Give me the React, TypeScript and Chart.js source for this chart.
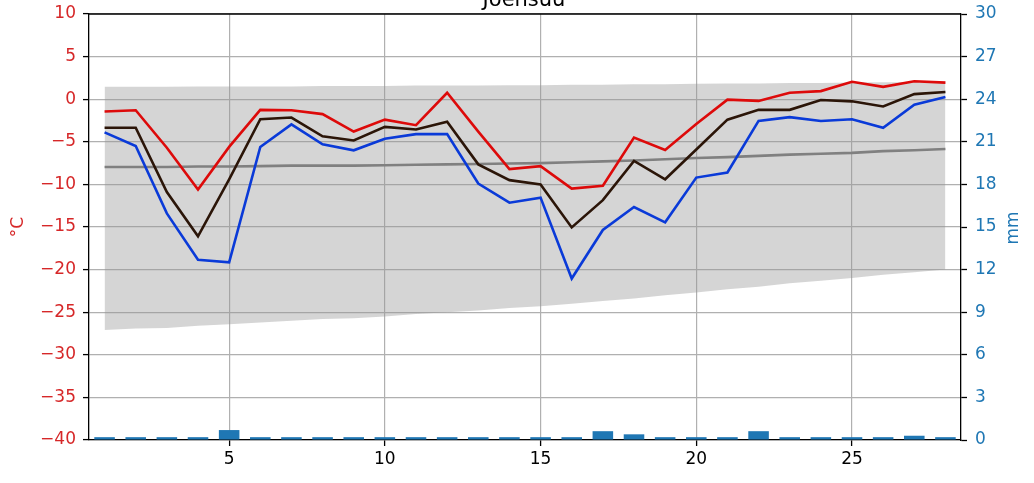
import React, { useEffect, useRef } from 'react';
import { Chart, registerables } from 'chart.js';

Chart.register(...registerables);

const titleText = 'Joensuu';
const leftAxisLabel = '°C';
const rightAxisLabel = 'mm';

const days = [1, 2, 3, 4, 5, 6, 7, 8, 9, 10, 11, 12, 13, 14, 15, 16, 17, 18, 19, 20, 21, 22, 23, 24, 25, 26, 27, 28];
const xTicks = [5, 10, 15, 20, 25];

const tMax = [-1.45, -1.3, -5.7, -10.6, -5.6, -1.25, -1.3, -1.75, -3.8, -2.4, -3.05, 0.75, -3.8, -8.2, -7.85, -10.5, -10.15, -4.5, -5.95, -2.9, -0.05, -0.2, 0.75, 0.95, 2.05, 1.45, 2.1, 1.95];
const tMean = [-3.35, -3.35, -10.9, -16.1, -9.4, -2.35, -2.15, -4.35, -4.85, -3.25, -3.55, -2.65, -7.65, -9.5, -10.0, -15.05, -11.85, -7.25, -9.4, -5.9, -2.4, -1.25, -1.25, -0.1, -0.25, -0.85, 0.6, 0.85];
const tMin = [-3.9, -5.5, -13.4, -18.85, -19.15, -5.6, -2.95, -5.3, -6.0, -4.65, -4.1, -4.1, -9.9, -12.15, -11.55, -21.05, -15.35, -12.65, -14.45, -9.2, -8.6, -2.55, -2.1, -2.55, -2.35, -3.35, -0.65, 0.25];

const climHigh = [1.45, 1.45, 1.45, 1.5, 1.5, 1.5, 1.5, 1.55, 1.55, 1.55, 1.6, 1.6, 1.6, 1.65, 1.65, 1.7, 1.7, 1.75, 1.75, 1.8, 1.85, 1.85, 1.9, 1.9, 1.95, 2.0, 2.0, 2.05];
const climLow = [-27.1, -26.9, -26.85, -26.6, -26.4, -26.2, -26.0, -25.8, -25.7, -25.5, -25.2, -25.0, -24.8, -24.5, -24.3, -24.0, -23.7, -23.4, -23.0, -22.7, -22.3, -22.0, -21.6, -21.3, -21.0, -20.6, -20.3, -20.0];
const climMean = [-7.95, -7.95, -7.95, -7.9, -7.9, -7.85, -7.8, -7.8, -7.8, -7.75, -7.7, -7.65, -7.6, -7.55, -7.5, -7.4, -7.3, -7.2, -7.05, -6.9, -6.8, -6.65, -6.5, -6.4, -6.3, -6.1, -6.0, -5.85];

const precip = [0.2, 0.2, 0.2, 0.2, 0.7, 0.2, 0.2, 0.2, 0.2, 0.2, 0.2, 0.2, 0.2, 0.2, 0.2, 0.2, 0.62, 0.4, 0.2, 0.2, 0.2, 0.62, 0.2, 0.2, 0.2, 0.2, 0.3, 0.2];

const FONT = '"DejaVu Sans", sans-serif';
const RED_TXT = '#d62728';
const BLUE_TXT = '#1f77b4';

const pts = (arr: number[]) => days.map((d, i) => ({ x: d, y: arr[i] }));

const framePlugin = {
  id: 'frame',
  afterDraw(chart: any) {
    const { ctx, chartArea } = chart;
    ctx.save();
    ctx.strokeStyle = '#000';
    ctx.lineWidth = 1.3;
    ctx.beginPath();
    ctx.moveTo(chartArea.left, chartArea.top);
    ctx.lineTo(chartArea.right, chartArea.top);
    ctx.stroke();

    ctx.fillStyle = '#000';
    ctx.font = `21px ${FONT}`;
    ctx.textAlign = 'center';
    ctx.textBaseline = 'alphabetic';
    ctx.fillText(titleText, 524, 6);

    ctx.font = `17px ${FONT}`;
    ctx.textBaseline = 'middle';
    ctx.save();
    ctx.translate(19, 227);
    ctx.rotate(-Math.PI / 2);
    ctx.fillStyle = RED_TXT;
    ctx.fillText(leftAxisLabel, 0, 0);
    ctx.restore();

    ctx.save();
    ctx.translate(1014, 228);
    ctx.rotate(-Math.PI / 2);
    ctx.fillStyle = BLUE_TXT;
    ctx.fillText(rightAxisLabel, 0, 0);
    ctx.restore();
    ctx.restore();
  },
};

export default function App() {
  const ref = useRef<HTMLCanvasElement>(null);

  useEffect(() => {
    const lineBase = { pointRadius: 0, borderWidth: 2.6, tension: 0, fill: false, yAxisID: 'y' };
    const chart = new Chart(ref.current as HTMLCanvasElement, {
      type: 'line',
      data: {
        datasets: [
          { ...lineBase, label: 'low', data: pts(climLow), borderWidth: 0, order: 10 } as any,
          { ...lineBase, label: 'high', data: pts(climHigh), borderWidth: 0, fill: '-1', backgroundColor: 'rgba(150,150,150,0.4)', order: 9 } as any,
          { ...lineBase, label: 'climMean', data: pts(climMean), borderColor: '#808080', order: 8 } as any,
          { ...lineBase, label: 'max', data: pts(tMax), borderColor: '#dd0a0a', order: 3 } as any,
          { ...lineBase, label: 'min', data: pts(tMin), borderColor: '#0a3ad8', order: 2 } as any,
          { ...lineBase, label: 'mean', data: pts(tMean), borderColor: '#2b1508', order: 1 } as any,
          {
            type: 'bar',
            label: 'precip',
            data: pts(precip),
            yAxisID: 'y2',
            backgroundColor: '#1f77b4',
            borderWidth: 0,
            barPercentage: 0.66,
            categoryPercentage: 1,
            order: 0,
          } as any,
        ],
      },
      options: {
        responsive: false,
        devicePixelRatio: 1,
        animation: false,
        events: [],
        layout: { padding: { top: 14, left: 0, right: 0, bottom: 0 } },
        plugins: { legend: { display: false }, tooltip: { enabled: false }, title: { display: false } },
        scales: {
          x: {
            type: 'linear',
            min: 0.5,
            max: 28.5,
            offset: false,
            afterBuildTicks: (s: any) => {
              s.ticks = xTicks.map((v) => ({ value: v }));
            },
            afterFit: (s: any) => {
              s.height = 43;
              s.paddingLeft = 0;
              s.paddingRight = 0;
            },
            ticks: { color: '#000', font: { family: FONT, size: 17 }, padding: 3, maxRotation: 0, autoSkip: false },
            grid: { color: '#b0b0b0', lineWidth: 1.2, tickLength: 6, tickColor: '#000', tickWidth: 1.3, offset: false },
            border: { color: '#000', width: 1.3 },
          },
          y: {
            type: 'linear',
            position: 'left',
            min: -40,
            max: 10,
            afterFit: (s: any) => {
              s.width = 89;
              s.paddingTop = 0;
              s.paddingBottom = 0;
            },
            ticks: {
              stepSize: 5,
              color: RED_TXT,
              font: { family: FONT, size: 17 },
              padding: 7,
              callback: (v: any) => String(v).replace('-', '\u2212'),
            },
            grid: { color: '#b0b0b0', lineWidth: 1.2, tickLength: 6, tickColor: '#000', tickWidth: 1.3 },
            border: { color: '#000', width: 1.3 },
          },
          y2: {
            type: 'linear',
            position: 'right',
            min: 0,
            max: 30,
            afterFit: (s: any) => {
              s.width = 73;
              s.paddingTop = 0;
              s.paddingBottom = 0;
            },
            ticks: { stepSize: 3, color: BLUE_TXT, font: { family: FONT, size: 17 }, padding: 8 },
            grid: { drawOnChartArea: false, tickLength: 6, tickColor: '#000', tickWidth: 1.3 },
            border: { color: '#000', width: 1.3 },
          },
        },
      },
      plugins: [framePlugin],
    } as any);
    return () => chart.destroy();
  }, []);

  return (
    <div style={{ position: 'absolute', left: 0, top: 0, width: 1034, height: 483, background: '#fff' }}>
      <canvas ref={ref} width={1034} height={483} style={{ display: 'block' }} />
    </div>
  );
}
